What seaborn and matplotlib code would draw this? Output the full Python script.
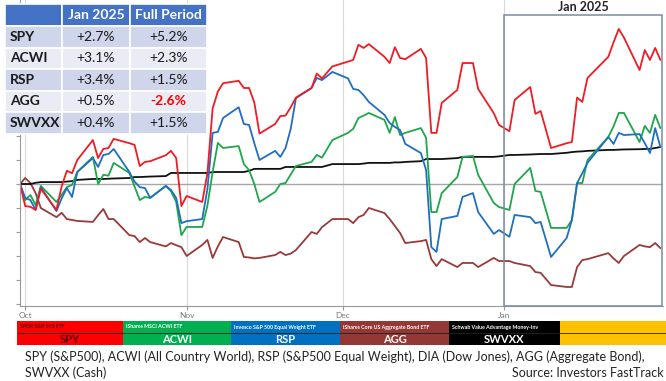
import pandas as pd
import matplotlib
matplotlib.use('Agg')
import matplotlib.pyplot as plt
import matplotlib.dates as mdates
import matplotlib.transforms as mtransforms
from matplotlib.patches import Rectangle
from matplotlib.ticker import MultipleLocator
import seaborn as sns

# trading days Sep 30 2024 .. Jan 31 2025, cumulative return in %
holidays = ['2024-11-28', '2024-12-25', '2025-01-01', '2025-01-09', '2025-01-20']
dates = pd.bdate_range('2024-09-30', '2025-01-31', freq='C', holidays=holidays)

spy = [0.0, -0.92, -0.95, -1.08, -0.2, -1.08, -0.1, 0.55, 0.45, 1.0,
       1.83, 1.08, 1.46, 1.5, 1.88, 1.7, 1.63, 0.75, 0.92, 0.95,
       1.2, 1.38, 1.08, -0.92, -0.5, -0.75, 0.45, 3.15, 3.85, 4.2,
       4.3, 4.0, 4.0, 3.4, 2.1, 2.5, 2.83, 2.85, 3.2, 3.6,
       4.0, 4.6, 4.4, 4.9, 5.1, 5.17, 5.8, 5.67, 5.83, 5.3,
       5.04, 5.7, 5.25, 5.2, 5.63, 5.25, 2.13, 2.13, 3.38, 3.92,
       5.04, 5.04, 3.96, 2.95, 2.46, 2.2, 3.5, 4.04, 2.92, 3.04,
       1.5, 1.7, 1.75, 3.6, 3.42, 4.42, 5.3, 5.9, 6.46, 6.1,
       4.75, 5.58, 5.17, 5.67, 5.17]
rsp = [0.0, -0.58, -0.67, -1.08, -0.13, -1.13, -0.6, -0.17, -0.54, 0.5,
       1.08, 0.71, 1.21, 1.25, 1.46, 0.5, 0.1, -0.13, -0.17, -0.58,
       -0.08, -0.25, -0.58, -1.63, -1.55, -1.46, -0.2, 2.13, 2.17, 2.75,
       3.2, 2.5, 2.46, 1.7, 1.0, 1.38, 1.13, 1.5, 2.3, 3.58,
       4.0, 4.42, 4.33, 4.67, 4.4, 3.96, 3.92, 3.7, 3.42, 2.88,
       2.54, 2.38, 2.25, 1.67, 1.29, 0.58, -2.63, -2.83, -1.46, -1.33,
       -0.54, -0.38, -1.17, -2.08, -1.92, -2.2, -1.29, -1.38, -1.63, -1.58,
       -3.04, -2.25, -1.5, 0.04, 0.45, 0.88, 1.96, 1.67, 2.13, 2.04,
       2.08, 1.7, 1.29, 2.33, 1.54]
acwi = [0.0, -0.67, -0.46, -0.88, -0.08, -0.75, -0.45, -0.13, -0.04, 0.5,
        1.13, 0.0, 0.38, 0.35, 0.88, 0.46, -0.1, -0.67, -0.54, -0.58,
        -0.08, -0.3, -0.75, -2.13, -1.79, -1.79, -0.9, 0.5, 1.71, 1.5,
        1.58, 0.83, 0.58, 0.0, -0.75, -0.33, 0.0, 0.04, 0.4, 0.75,
        0.92, 1.21, 1.1, 1.83, 2.13, 2.3, 2.75, 2.85, 2.96, 2.67,
        2.13, 2.79, 2.04, 2.13, 2.33, 1.92, -1.17, -1.17, -0.38, 0.29,
        1.13, 1.17, 0.38, -0.79, -0.96, -1.08, 0.0, 0.67, -0.29, -0.33,
        -1.83, -1.83, -1.5, 0.04, 0.04, 1.0, 1.96, 2.4, 2.96, 2.96,
        1.75, 2.42, 2.13, 2.88, 2.33]
agg = [0.0, 0.25, 0.04, -0.38, -1.0, -1.38, -1.2, -1.46, -1.5, -1.54,
       -1.58, -1.3, -1.04, -1.46, -1.46, -2.13, -2.17, -2.42, -2.25, -2.42,
       -2.6, -2.46, -2.55, -2.63, -3.0, -2.54, -2.33, -3.08, -2.6, -2.21,
       -2.42, -3.04, -3.06, -3.1, -3.08, -2.96, -2.83, -2.96, -2.9, -2.75,
       -2.0, -2.08, -1.8, -1.46, -1.46, -1.63, -1.38, -1.29, -1.0, -1.21,
       -1.46, -1.75, -2.04, -2.46, -2.38, -2.33, -3.13, -3.42, -3.13, -3.46,
       -3.29, -3.29, -3.46, -3.08, -3.21, -3.21, -3.29, -3.42, -3.67, -3.7,
       -4.21, -4.29, -4.29, -3.46, -3.17, -3.13, -2.88, -3.1, -3.29, -3.0,
       -2.54, -2.6, -2.63, -2.46, -2.67]
swvxx = [0.0, 0.0, 0.0, 0.05, 0.08, 0.08, 0.08, 0.1, 0.12, 0.17,
         0.21, 0.21, 0.21, 0.22, 0.23, 0.25, 0.29, 0.29, 0.3, 0.31,
         0.33, 0.46, 0.46, 0.46, 0.46, 0.46, 0.46, 0.5, 0.5, 0.5,
         0.5, 0.5, 0.55, 0.63, 0.63, 0.63, 0.63, 0.71, 0.71, 0.71,
         0.71, 0.71, 0.71, 0.83, 0.83, 0.83, 0.83, 0.85, 0.88, 0.88,
         0.88, 0.9, 0.9, 0.92, 0.95, 1.04, 1.04, 1.04, 1.04, 1.08,
         1.13, 1.13, 1.13, 1.13, 1.15, 1.21, 1.21, 1.23, 1.24, 1.25,
         1.25, 1.3, 1.33, 1.35, 1.36, 1.38, 1.42, 1.42, 1.43, 1.44,
         1.45, 1.46, 1.46, 1.5, 1.54]

tickers = ['SPY', 'ACWI', 'RSP', 'AGG', 'SWVXX']
fund_names = ['SPDR S&P 500 ETF', 'iShares MSCI ACWI ETF', 'Invesco S&P 500 Equal Weight ETF',
              'iShares Core US Aggregate Bond ETF', 'Schwab Value Advantage Money-Inv']
jan_ret = ['+2.7%', '+3.1%', '+3.4%', '+0.5%', '+0.4%']
full_ret = ['+5.2%', '+2.3%', '+1.5%', '-2.6%', '+1.5%']

line_colors = {'SPY': '#ee1c25', 'ACWI': '#1fa64a', 'RSP': '#1f6fc1', 'AGG': '#983a3a', 'SWVXX': '#111111'}
band_colors = ['#ff0000', '#00b050', '#0070c0', '#953735', '#000000', '#ffc000']

df = pd.DataFrame({'date': dates, 'SPY': spy, 'ACWI': acwi, 'RSP': rsp, 'AGG': agg, 'SWVXX': swvxx})
long = df.melt(id_vars='date', var_name='fund', value_name='ret')

sns.set_style('white')
plt.rcParams['font.family'] = ['Lato', 'DejaVu Sans']

fig = plt.figure(figsize=(6.66, 3.81), dpi=100)
W, H = 666, 381
ax = fig.add_axes([20 / W, 1 - 306 / H, 643 / W, 306 / H])

sns.lineplot(data=long, x='date', y='ret', hue='fund',
             hue_order=['AGG', 'SWVXX', 'ACWI', 'RSP', 'SPY'],
             palette=line_colors, legend=False, linewidth=1.3, ax=ax)

ax.set_xlim(pd.Timestamp('2024-09-30'), pd.Timestamp('2025-01-31 12:00'))
ax.set_ylim(-122 / 24, 184 / 24)
ax.set_xlabel('')
ax.set_ylabel('')
ax.xaxis.set_major_locator(mdates.MonthLocator())
ax.xaxis.set_major_formatter(mdates.DateFormatter('%b'))
ax.yaxis.set_major_locator(MultipleLocator(1))
ax.tick_params(axis='x', bottom=True, length=3, color='#999999', labelsize=6,
               labelcolor='#777777', pad=1)
ax.tick_params(axis='y', left=True, length=3, color='#999999', labelleft=False)
ax.grid(True, axis='x', color='#d9d9d9', lw=0.8)
ax.axhline(0, color='#a6a6a6', lw=1, zorder=1)
for s in ['top', 'right']:
    ax.spines[s].set_visible(False)
for s in ['left', 'bottom']:
    ax.spines[s].set_color('#999999')
    ax.spines[s].set_linewidth(0.8)

# January box
trans = mtransforms.blended_transform_factory(ax.transData, ax.transAxes)
x0 = mdates.date2num(pd.Timestamp('2025-01-01'))
x1 = mdates.date2num(pd.Timestamp('2025-01-31 06:00'))
ax.add_patch(Rectangle((x0, 0), x1 - x0, 0.951, transform=trans, fill=False,
                       ec='#7b8ba0', lw=1.1, clip_on=False, zorder=4))
ax.text((x0 + x1) / 2, 0.977, 'Jan 2025', transform=trans, ha='center', va='center',
        fontsize=9, fontweight='bold', color='#222222')

# overlay in pixel coordinates
ov = fig.add_axes([0, 0, 1, 1], zorder=5)
ov.set_xlim(0, W)
ov.set_ylim(H, 0)
ov.axis('off')

# summary table
cx = [5, 62, 130, 207]
for c in range(3):
    ov.add_patch(Rectangle((cx[c], 4), cx[c + 1] - cx[c], 22, fc='#4472c4', ec='white', lw=1.2))
ov.text((cx[1] + cx[2]) / 2, 15, 'Jan 2025', ha='center', va='center', color='white',
        fontsize=10, fontweight='bold')
ov.text((cx[2] + cx[3]) / 2, 15, 'Full Period', ha='center', va='center', color='white',
        fontsize=10, fontweight='bold')
rh = 21.5
for i, t in enumerate(tickers):
    y = 26 + i * rh
    fc = '#cfd5ea' if i % 2 == 0 else '#e9ebf5'
    for c in range(3):
        ov.add_patch(Rectangle((cx[c], y), cx[c + 1] - cx[c], rh, fc=fc, ec='white', lw=1.2))
    ov.text(10, y + rh / 2, t, ha='left', va='center', fontsize=10, fontweight='bold', color='#1a1a1a')
    ov.text((cx[1] + cx[2]) / 2, y + rh / 2, jan_ret[i], ha='center', va='center',
            fontsize=10, color='#1a1a1a')
    neg = full_ret[i].startswith('-')
    ov.text((cx[2] + cx[3]) / 2, y + rh / 2, full_ret[i], ha='center', va='center',
            fontsize=10, color='#ff0000' if neg else '#1a1a1a', fontweight='bold' if neg else 'normal')

# colour key band
bx = [17, 123, 231, 340, 449, 560, 666]
for i, col in enumerate(band_colors):
    ov.add_patch(Rectangle((bx[i], 321), bx[i + 1] - bx[i], 24, fc=col, ec='none'))
    if i < len(tickers):
        tc = '#5a0000' if i == 0 else 'white'
        ov.text(bx[i] + 3, 327, fund_names[i], ha='left', va='center', fontsize=3.8,
                fontweight='bold', color=tc)
        ov.text((bx[i] + bx[i + 1]) / 2, 339.5, tickers[i], ha='center', va='center',
                fontsize=8, fontweight='bold', color=tc)
ov.plot([17, 666], [333, 333], color='#222222', lw=0.6)

ov.text(25, 357, 'SPY (S&P500), ACWI (All Country World), RSP (S&P500 Equal Weight), '
        'DIA (Dow Jones), AGG (Aggregate Bond),', ha='left', va='center', fontsize=9, color='#222222')
ov.text(25, 373, 'SWVXX (Cash)', ha='left', va='center', fontsize=9, color='#222222')
ov.text(664, 373, 'Source: Investors FastTrack', ha='right', va='center', fontsize=9, color='#222222')

fig.savefig('out.png', dpi=100)
